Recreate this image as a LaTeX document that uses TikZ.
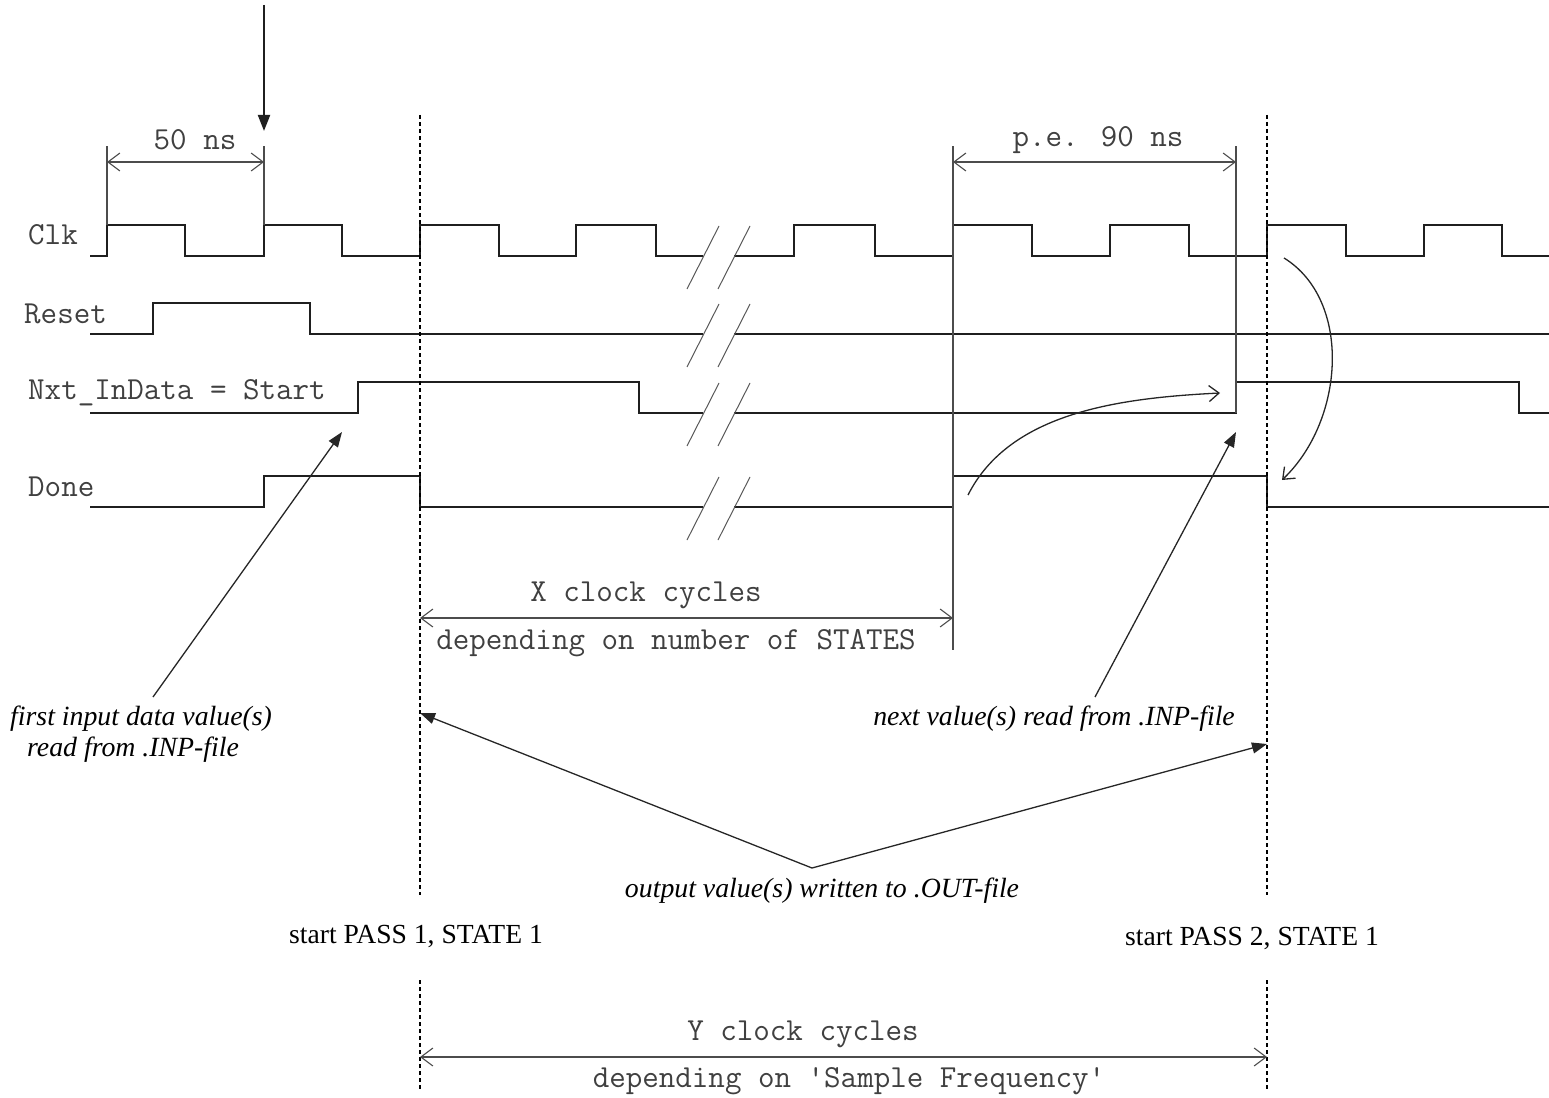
\documentclass[tikz,border=0pt]{standalone}
\usepackage{fontspec}
\setmainfont{Liberation Serif}
\usetikzlibrary{arrows.meta}
\begin{document}
\begin{tikzpicture}[x=1pt,y=-1pt,
  sig/.style={line width=2.4pt, line join=miter, black!88},
  thinln/.style={line width=1.1pt, black!70},
  dim/.style={thinln, {Straight Barb[length=12pt,width=18pt]}-{Straight Barb[length=12pt,width=18pt]}},
  mono/.style={font=\fontsize{32.1}{34}\ttfamily, text=black!75, inner sep=0},
  note/.style={font=\fontsize{27.8}{30}\selectfont\itshape, inner sep=0},
  plainlbl/.style={font=\fontsize{27.6}{30}\selectfont, inner sep=0},
  pointer/.style={line width=1.3pt, black!85, -{Triangle[length=15pt,width=11pt]}},
  curvearrow/.style={line width=1.3pt, black!85, -{Straight Barb[length=10pt,width=16pt]}},
  marker/.style={line width=2pt, dash pattern=on 4pt off 3pt},
  brk/.style={line width=1pt, black!65}]

\useasboundingbox (0,0) rectangle (1549,1097);

% ---------- waveforms ----------
% Clk
\draw[sig] (90,256) -- (107,256) -- (107,225) -- (185,225) -- (185,256) -- (264,256) -- (264,225) -- (342,225) -- (342,256) -- (420,256) -- (420,225) -- (499,225) -- (499,256) -- (576,256) -- (576,225) -- (656,225) -- (656,256) -- (703,256);
\draw[sig] (734,256) -- (794,256) -- (794,225) -- (875,225) -- (875,256) -- (953,256) -- (953,225) -- (1032,225) -- (1032,256) -- (1110,256) -- (1110,225) -- (1189,225) -- (1189,256) -- (1267,256) -- (1267,225) -- (1346,225) -- (1346,256) -- (1424,256) -- (1424,225) -- (1502,225) -- (1502,256) -- (1549,256);
% Reset
\draw[sig] (90,334) -- (153,334) -- (153,303) -- (310,303) -- (310,334) -- (703,334);
\draw[sig] (734,334) -- (1549,334);
% Nxt_InData
\draw[sig] (90,413) -- (358,413) -- (358,382) -- (639,382) -- (639,413) -- (703,413);
\draw[sig] (734,413) -- (1236,413) -- (1236,382) -- (1519,382) -- (1519,413) -- (1549,413);
% Done
\draw[sig] (90,507) -- (264,507) -- (264,476) -- (420,476) -- (420,507) -- (703,507);
\draw[sig] (734,507) -- (953,507) -- (953,476) -- (1267,476) -- (1267,507) -- (1549,507);

% break marks
\foreach \y in {257,335,414,508}{
  \draw[brk] (687,{\y+32}) -- (719,{\y-31});
  \draw[brk] (718,{\y+32}) -- (750,{\y-31});
}

% signal names
\node[mono, anchor=west] (lclk) at (28,235) {Clk};
\node[mono, anchor=west] (lrst) at (24,314) {Reset};
\node[mono, anchor=west] (lnxt) at (28,393) {Nxt\_InData = Start};
\node[mono, anchor=west] (ldone) at (28,487) {Done};

% ---------- top arrow ----------
\coordinate (topstart) at (264,5);
\coordinate (toptip) at (264,131);
\draw[line width=2pt, black!88, -{Triangle[length=16pt,width=12pt]}] (topstart) -- (toptip);

% ---------- 50 ns ----------
\draw[thinln] (107,146) -- (107,225);
\draw[thinln] (264,146) -- (264,225);
\coordinate (d50a) at (107,162);
\coordinate (d50b) at (264,162);
\draw[dim] (d50a) -- (d50b);
\node[mono] (t50) at (195,140) {50 ns};

% ---------- p.e. 90 ns ----------
\draw[thinln] (953,146) -- (953,650);
\draw[thinln] (1236,146) -- (1236,413);
\coordinate (d90a) at (953,162);
\coordinate (d90b) at (1236,162);
\draw[dim] (d90a) -- (d90b);
\node[mono] (t90) at (1098,140) {p.e. 90 ns};

% ---------- dotted markers ----------
\draw[marker] (420,115) -- (420,895);
\draw[marker] (420,980) -- (420,1090);
\draw[marker] (1267,115) -- (1267,895);
\draw[marker] (1267,980) -- (1267,1090);

% ---------- X clock cycles ----------
\coordinate (xa) at (420,618);
\coordinate (xb) at (953,618);
\draw[dim] (xa) -- (xb);
\node[mono] (tx1) at (646,595) {X clock cycles};
\node[mono] (tx2) at (676,643) {depending on number of STATES};

% ---------- Y clock cycles ----------
\coordinate (ya) at (420,1057);
\coordinate (yb) at (1267,1057);
\draw[dim] (ya) -- (yb);
\node[mono] (ty1) at (803,1034) {Y clock cycles};
\node[mono] (ty2) at (849,1081) {depending on 'Sample Frequency'};

% ---------- annotations ----------
\node[note, anchor=west] (n1a) at (10,719) {first input data value(s)};
\node[note, anchor=west] (n1b) at (27,750) {read from .INP-file};
\coordinate (n1s) at (153,697);
\coordinate (n1t) at (342,432);
\draw[pointer] (n1s) -- (n1t);

\node[note, anchor=east] (n2) at (1235,719) {next value(s) read from .INP-file};
\coordinate (n2s) at (1095,697);
\coordinate (n2t) at (1236,432);
\draw[pointer] (n2s) -- (n2t);

\node[note] (n3) at (822,891) {output value(s) written to .OUT-file};
\coordinate (vtx) at (812,868);
\coordinate (o1) at (420,713);
\coordinate (o2) at (1267,744);
\draw[pointer] (vtx) -- (o1);
\draw[pointer] (vtx) -- (o2);

\node[plainlbl] (p1) at (416,936) {start PASS 1, STATE 1};
\node[plainlbl] (p2) at (1252,938) {start PASS 2, STATE 1};

% ---------- curved arrows ----------
\coordinate (c1s) at (968,495);
\coordinate (c1e) at (1220,393);
\draw[curvearrow] (c1s) .. controls (1010,412) and (1120,398) .. (c1e);
\coordinate (c2s) at (1284,258);
\coordinate (c2e) at (1282,480);
\draw[curvearrow] (c2s) .. controls (1352,300) and (1345,420) .. (c2e);

\end{tikzpicture}
\end{document}
